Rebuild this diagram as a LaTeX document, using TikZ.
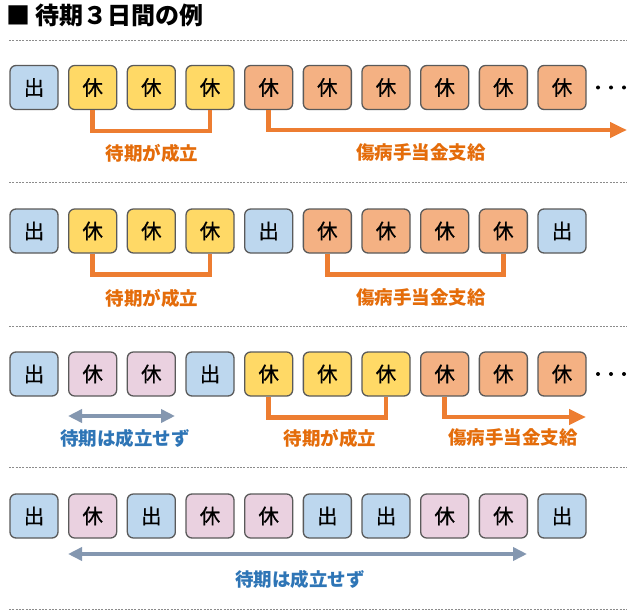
\documentclass[tikz,border=0pt]{standalone}
\usepackage{fontspec}
\setmainfont{Noto Sans CJK JP}
\newfontfamily\dayfont[FakeBold=0.6]{Noto Sans CJK JP}
\usetikzlibrary{arrows.meta}
\definecolor{bF}{HTML}{BDD7EE}
\definecolor{yF}{HTML}{FFD966}
\definecolor{oF}{HTML}{F4B183}
\definecolor{pF}{HTML}{EAD1E0}
\definecolor{bd}{HTML}{5A5A5A}
\definecolor{oL}{HTML}{ED7D31}
\definecolor{oT}{HTML}{E46C0A}
\definecolor{bL}{HTML}{8497B0}
\definecolor{bT}{HTML}{2E75B6}
\definecolor{dashc}{HTML}{8C8C8C}
\begin{document}
\begin{tikzpicture}[x=1pt,y=-1pt,
  day/.style={draw=bd,line width=1.3pt,rounded corners=6pt,minimum width=48pt,minimum height=44pt,inner sep=0pt,font=\dayfont\fontsize{20.5}{20.5}\selectfont},
  sep/.style={draw=dashc,line width=0.8pt,dash pattern=on 2pt off 1.3pt},
  obrk/.style={draw=oL,line width=4.5pt,line join=miter},
  oarr/.style={obrk,-{Triangle[length=17pt,width=15pt]}},
  barr/.style={draw=bL,line width=4.5pt,{Triangle[length=14pt,width=13pt]}-{Triangle[length=14pt,width=13pt]}},
  olab/.style={text=oT,font=\fontsize{18.5}{18.5}\selectfont\bfseries,inner sep=0pt},
  blab/.style={text=bT,font=\fontsize{18.5}{18.5}\selectfont\bfseries,inner sep=0pt},
  dotc/.style={fill=black}
]
\useasboundingbox (0,0) rectangle (634,615);
\fill[white] (0,0) rectangle (634,615);

\node[anchor=west,inner sep=0pt,font=\fontsize{24}{24}\selectfont\bfseries] (title) at (6,15) {■ 待期３日間の例};

\draw[sep] (9,40) -- (627,40);
\draw[sep] (9,182) -- (627,182);
\draw[sep] (9,326) -- (627,326);
\draw[sep] (9,467) -- (627,467);
\draw[sep] (9,609) -- (627,609);

% Row 1
\foreach \c/\t [count=\i] in {bF/出,yF/休,yF/休,yF/休,oF/休,oF/休,oF/休,oF/休,oF/休,oF/休}
  \node[day,fill=\c] (r1b\i) at ({34+(\i-1)*58.67},87.5) {\t};
\foreach \x in {598,611,624} \fill[dotc] (\x,87.5) circle (2pt);
\draw[obrk] (r1b2.south) -- ([yshift=-21pt]r1b2.south) -| (r1b4.south);
\coordinate (r1end) at (627,130);
\draw[oarr] (r1b5.south) |- (r1end);
\node[olab] (r1l1) at (152,153) {待期が成立};
\node[olab] (r1l2) at (421,153) {傷病手当金支給};

% Row 2
\foreach \c/\t [count=\i] in {bF/出,yF/休,yF/休,yF/休,bF/出,oF/休,oF/休,oF/休,oF/休,bF/出}
  \node[day,fill=\c] (r2b\i) at ({34+(\i-1)*58.67},231) {\t};
\draw[obrk] (r2b2.south) -- ([yshift=-21pt]r2b2.south) -| (r2b4.south);
\draw[obrk] (r2b6.south) -- ([yshift=-21pt]r2b6.south) -| (r2b9.south);
\node[olab] (r2l1) at (152,298) {待期が成立};
\node[olab] (r2l2) at (421,298) {傷病手当金支給};

% Row 3
\foreach \c/\t [count=\i] in {bF/出,pF/休,pF/休,bF/出,yF/休,yF/休,yF/休,oF/休,oF/休,oF/休}
  \node[day,fill=\c] (r3b\i) at ({34+(\i-1)*58.67},374) {\t};
\foreach \x in {598,611,624} \fill[dotc] (\x,374) circle (2pt);
\coordinate (r3a) at (68,416);
\coordinate (r3b) at (175,416);
\draw[barr] (r3a) -- (r3b);
\draw[obrk] (r3b5.south) -- ([yshift=-21pt]r3b5.south) -| (r3b7.south);
\coordinate (r3end) at (586,417);
\draw[oarr] (r3b8.south) |- (r3end);
\node[blab] (r3l1) at (125,438) {待期は成立せず};
\node[olab] (r3l2) at (330,438) {待期が成立};
\node[olab] (r3l3) at (513,438) {傷病手当金支給};

% Row 4
\foreach \c/\t [count=\i] in {bF/出,pF/休,bF/出,pF/休,pF/休,bF/出,bF/出,pF/休,pF/休,bF/出}
  \node[day,fill=\c] (r4b\i) at ({34+(\i-1)*58.67},516) {\t};
\coordinate (r4a) at (68,554);
\coordinate (r4b) at (527,554);
\draw[barr] (r4a) -- (r4b);
\node[blab] (r4l1) at (300,579) {待期は成立せず};
\end{tikzpicture}
\end{document}
